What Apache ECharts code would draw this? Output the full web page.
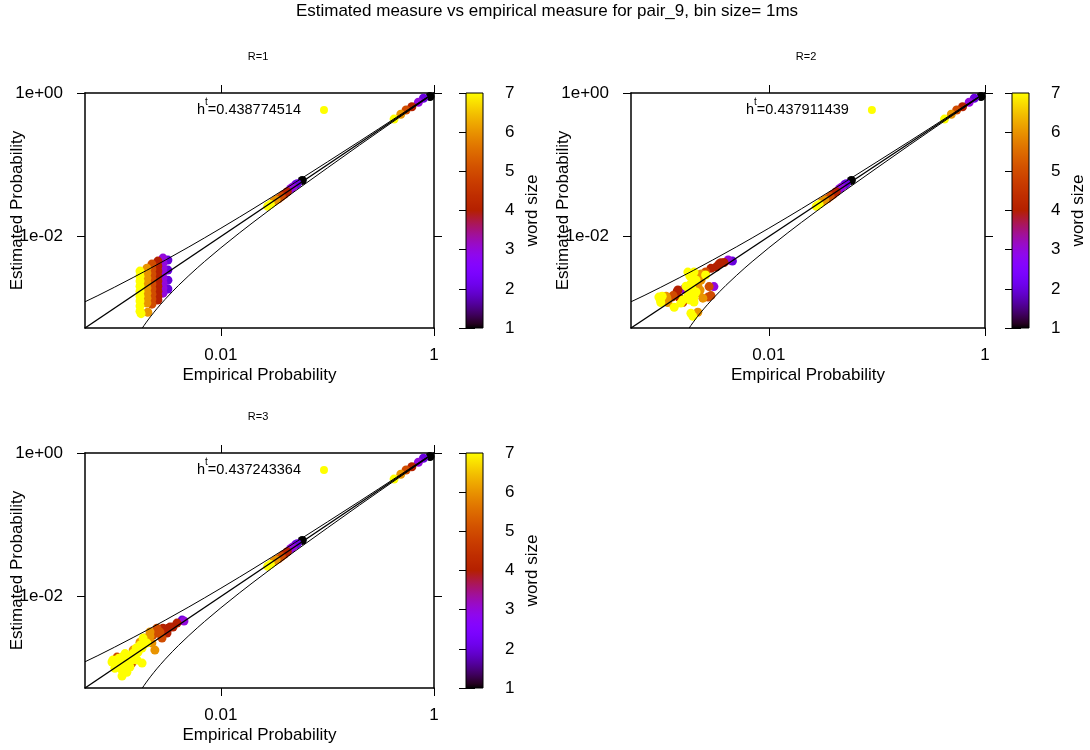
<!DOCTYPE html>
<html><head><meta charset="utf-8">
<script src="https://cdn.jsdelivr.net/npm/echarts@6/dist/echarts.min.js"></script>
<style>html,body{margin:0;padding:0;background:#fff}#c{width:1090px;height:750px}</style>
</head><body><div id="c"></div>
<script>
// ---------------- data ----------------
const titleText = 'Estimated measure vs empirical measure for pair_9, bin size= 1ms';
const panelTitles = ['R=1', 'R=2', 'R=3'];
const keyValues = ['0.438774514', '0.437911439', '0.437243364'];
const axisMin = 5.3e-4;
const axisMax = 1;
const xTickValues = [0.01, 1];
const yTickValues = [0.01, 1];
const colorbarTicks = [1, 2, 3, 4, 5, 6, 7];
const xAxisName = 'Empirical Probability';
const yAxisName = 'Estimated Probability';
const cbName = 'word size';

// reference lines: [empirical, estimated]
const diagonal = [[5.3e-4, 5.3e-4], [1, 1]];
const upperCurve = [[5.3e-4,1.23e-3],[7e-4,1.5e-3],[1e-3,1.96e-3],[1.5e-3,2.68e-3],[2e-3,3.36e-3],[3e-3,4.67e-3],[5e-3,7.15e-3],[7e-3,9.54e-3],[0.01,0.01304],[0.015,0.01872],[0.02,0.0243],[0.03,0.03527],[0.05,0.0568],[0.1,0.1096],[0.2,0.2122],[0.3,0.3139],[0.5,0.5152],[0.8,0.8122],[1,1]];
const lowerCurve = [[1.83e-3,5.3e-4],[1.85e-3,5.42e-4],[1.9e-3,5.75e-4],[2e-3,6.4e-4],[2.1e-3,7.07e-4],[2.2e-3,7.74e-4],[2.35e-3,8.76e-4],[2.5e-3,9.8e-4],[2.7e-3,1.12e-3],[3e-3,1.335e-3],[3.5e-3,1.70e-3],[4e-3,2.08e-3],[5e-3,2.85e-3],[6e-3,3.65e-3],[7e-3,4.46e-3],[0.01,6.96e-3],[0.015,0.01128],[0.02,0.0157],[0.03,0.02473],[0.05,0.0432],[0.1,0.0904],[0.2,0.1878],[0.3,0.286],[0.5,0.4848],[0.8,0.7878],[1,1]];

// points: [empirical probability, estimated probability, word size]
const topChain = [[0.918,0.894,1],[0.796,0.844,2],[0.714,0.742,3],[0.620,0.644,4],[0.547,0.579,5],[0.488,0.505,6],[0.422,0.433,7]];
const midCluster = [[0.0580,0.0605,1],[0.0500,0.0525,2],[0.0520,0.0545,2],[0.0450,0.0462,3],[0.0470,0.0485,3],[0.0392,0.0385,4],[0.0420,0.0420,4],[0.0350,0.0337,5],[0.0370,0.0360,5],[0.0312,0.0305,6],[0.0330,0.0322,6],[0.0275,0.0263,7],[0.0292,0.0280,7]];
const lowR1 = [
 [3.18e-3,4.69e-3,2],[3.18e-3,3.40e-3,2],[3.18e-3,2.46e-3,2],[3.18e-3,1.85e-3,2],
 [2.86e-3,5.0e-3,3],[2.86e-3,4.26e-3,3],[2.86e-3,3.62e-3,3],[2.86e-3,3.09e-3,3],[2.86e-3,2.63e-3,3],[2.86e-3,2.24e-3,3],[2.86e-3,1.91e-3,3],[2.86e-3,1.62e-3,3],
 [2.56e-3,4.54e-3,4],[2.56e-3,3.87e-3,4],[2.56e-3,3.29e-3,4],[2.56e-3,2.80e-3,4],[2.56e-3,2.39e-3,4],[2.56e-3,2.03e-3,4],[2.56e-3,1.73e-3,4],[2.56e-3,1.47e-3,4],[2.56e-3,1.30e-3,4],
 [2.25e-3,4.12e-3,5],[2.25e-3,3.51e-3,5],[2.25e-3,2.99e-3,5],[2.25e-3,2.55e-3,5],[2.25e-3,2.17e-3,5],[2.25e-3,1.85e-3,5],[2.25e-3,1.57e-3,5],[2.25e-3,1.34e-3,5],[2.25e-3,1.14e-3,5],
 [2.02e-3,3.62e-3,6],[2.02e-3,3.09e-3,6],[2.02e-3,2.63e-3,6],[2.02e-3,2.24e-3,6],[2.02e-3,1.91e-3,6],[2.02e-3,1.62e-3,6],[2.02e-3,1.38e-3,6],[2.02e-3,1.18e-3,6],[2.06e-3,8.8e-4,6],
 [1.74e-3,3.29e-3,7],[1.74e-3,2.80e-3,7],[1.74e-3,2.39e-3,7],[1.74e-3,2.03e-3,7],[1.74e-3,1.73e-3,7],[1.74e-3,1.47e-3,7],[1.74e-3,1.26e-3,7],[1.74e-3,1.07e-3,7],[1.74e-3,9.1e-4,7],[1.78e-3,8.4e-4,7]
];
const lowR2 = [
 [4.6e-3,4.54e-3,2],
 [4.2e-3,4.7e-3,3],[3.1e-3,2.0e-3,3],[1.64e-3,1.85e-3,3],
 [3.6e-3,4.3e-3,4],[3.25e-3,3.74e-3,4],[2.91e-3,3.6e-3,4],[1.44e-3,1.8e-3,4],[1.47e-3,1.43e-3,4],[3.45e-3,4.12e-3,4],[3.85e-3,4.33e-3,4],[1.41e-3,1.68e-3,4],
 [2.6e-3,3.2e-3,5],[2.8e-3,2.0e-3,5],[2.91e-3,1.5e-3,5],[2.74e-3,1.43e-3,5],[1.3e-3,1.5e-3,5],[1.6e-3,1.2e-3,5],[1.27e-3,1.43e-3,5],
 [2.25e-3,2.9e-3,6],[2.2e-3,2.1e-3,6],[2.25e-3,1.65e-3,6],[2.45e-3,1.38e-3,6],[1.12e-3,1.47e-3,6],[1.16e-3,1.2e-3,6],[2.2e-3,8.8e-4,6],[2.36e-3,2.47e-3,6],[2.31e-3,1.79e-3,6],[2.36e-3,3.0e-3,6],[1.14e-3,1.38e-3,6],
 [1.98e-3,2.65e-3,7],[1.9e-3,2.2e-3,7],[1.82e-3,1.8e-3,7],[1.98e-3,1.6e-3,7],[2.03e-3,1.43e-3,7],[2.6e-3,2.9e-3,7],[9.6e-4,1.43e-3,7],[1.0e-3,1.2e-3,7],[1.33e-3,1.03e-3,7],[1.53e-3,1.18e-3,7],[1.6e-3,1.3e-3,7],[1.9e-3,8.5e-4,7],[1.98e-3,7.7e-4,7],
 [1.78e-3,3.19e-3,7],[1.86e-3,2.80e-3,7],[2.03e-3,3.19e-3,7],[2.12e-3,2.47e-3,7],[1.71e-3,2.03e-3,7],[1.94e-3,1.91e-3,7],[1.78e-3,1.47e-3,7],[2.12e-3,1.68e-3,7],[1.86e-3,1.30e-3,7],[2.03e-3,1.22e-3,7],[1.03e-3,1.47e-3,7],[9.9e-4,1.3e-3,7]
];
const lowR3 = [
 [4.32e-3,4.69e-3,2],
 [4.5e-3,4.55e-3,3],
 [3.87e-3,4.26e-3,4],[3.55e-3,3.75e-3,4],[3.2e-3,3.62e-3,4],[2.86e-3,3.62e-3,4],[3.12e-3,3.09e-3,4],[3.33e-3,3.74e-3,4],
 [2.51e-3,3.62e-3,5],[2.56e-3,3.09e-3,5],[2.3e-3,2.9e-3,5],[2.8e-3,2.63e-3,5],[1.06e-3,1.43e-3,5],[1.46e-3,1.18e-3,5],[2.68e-3,3.19e-3,5],
 [2.16e-3,3.2e-3,6],[1.94e-3,2.63e-3,6],[2.25e-3,2.24e-3,6],[2.4e-3,1.79e-3,6],[1.5e-3,1.79e-3,6],[2.16e-3,2.80e-3,6],[1.74e-3,2.31e-3,6],
 [1.86e-3,2.63e-3,7],[2.02e-3,2.24e-3,7],[1.82e-3,1.91e-3,7],[1.67e-3,1.68e-3,7],[1.56e-3,1.43e-3,7],[1.26e-3,1.6e-3,7],[1.18e-3,1.43e-3,7],[9.7e-4,1.30e-3,7],[9.5e-4,1.22e-3,7],[1.13e-3,1.10e-3,7],[1.18e-3,9.4e-4,7],[1.31e-3,8.8e-4,7],[1.82e-3,1.18e-3,7],[1.46e-3,1.30e-3,7],[1.4e-3,1.04e-3,7],[1.18e-3,7.8e-4,7],
 [1.04e-3,1.22e-3,7],[1.10e-3,1.38e-3,7],[1.23e-3,1.22e-3,7],[1.34e-3,1.47e-3,7],[1.50e-3,1.62e-3,7],[1.60e-3,1.91e-3,7],[1.74e-3,2.10e-3,7],[1.90e-3,2.31e-3,7],[1.34e-3,1.07e-3,7],[1.23e-3,1.0e-3,7],[1.63e-3,1.30e-3,7],[1.01e-3,1.0e-3,7]
];
const lowClusters = [lowR1, lowR2, lowR3];

// ---------------- style / layout ----------------
const FONT = "'Liberation Sans', Arial, Helvetica, sans-serif";
const layout = [
  {grid:[85,93,349,235], cb:[466,93,17,235], title:[258,57], key:[197,97]},
  {grid:[631,93,354,235], cb:[1012,93,17,235], title:[806,57], key:[746,97]},
  {grid:[85,453,349,235], cb:[466,453,17,235], title:[258,417], key:[197,457]}
];
function pal(t){
  const r = Math.round(255*Math.sqrt(t));
  const g = Math.round(255*t*t*t);
  const b = Math.round(255*Math.max(0, Math.min(1, Math.sin(2*Math.PI*t))));
  return 'rgb(' + r + ',' + g + ',' + b + ')';
}
const NS = 48, palColors = [], gradStops = [];
for (let i = 0; i <= NS; i++) { palColors.push(pal(i/NS)); gradStops.push({offset: i/NS, color: pal(i/NS)}); }

const fmtX = v => String(Number(Number(v).toPrecision(6)));
const fmtY = v => { const e = Math.round(Math.log10(v)); return '1e' + (e < 0 ? '-' : '+') + String(Math.abs(e)).padStart(2, '0'); };
const txt = (size) => ({fontSize: size, color: '#000', fontFamily: FONT});

function logAxis(gi, pos, showLab, isX){
  const ticks = isX ? xTickValues : yTickValues;
  return {
    type: 'log', logBase: 10, gridIndex: gi, position: pos, min: axisMin, max: axisMax,
    name: showLab ? (isX ? xAxisName : yAxisName) : '',
    nameLocation: 'middle', nameGap: isX ? 39 : 59, nameRotate: isX ? 0 : 90, nameMoveOverlap: false,
    nameTextStyle: txt(17),
    axisLine: {show: true, onZero: false, lineStyle: {color: '#000', width: 1.5}},
    axisTick: {show: true, inside: false, length: 8, customValues: ticks, lineStyle: {color: '#000', width: 1}},
    axisLabel: Object.assign({show: showLab, customValues: ticks, margin: isX ? 19 : 22, formatter: isX ? fmtX : fmtY}, txt(17)),
    splitLine: {show: false}, minorTick: {show: false}, minorSplitLine: {show: false}
  };
}
function cbAxis(gi, pos, showLab){
  return {
    type: 'value', gridIndex: gi, position: pos,
    min: colorbarTicks[0], max: colorbarTicks[colorbarTicks.length-1], interval: 1,
    name: showLab ? cbName : '', nameLocation: 'middle', nameGap: 41, nameRotate: 90, nameMoveOverlap: false,
    nameTextStyle: txt(17),
    axisLine: {show: false},
    axisTick: {show: true, inside: false, length: showLab ? 9 : 7, lineStyle: {color: '#000', width: 1}},
    axisLabel: Object.assign({show: showLab, margin: 22}, txt(17)),
    splitLine: {show: false}
  };
}

const grids = [], xAxes = [], yAxes = [], series = [], legends = [], scatterIdx = [];
const graphics = [{type: 'text', x: 547, y: 11, style: {text: titleText, fontSize: 17, fontFamily: FONT, fill: '#000', align: 'center', verticalAlign: 'middle'}}];

layout.forEach((L, p) => {
  const gi = grids.length;
  grids.push({left: L.grid[0], top: L.grid[1], width: L.grid[2], height: L.grid[3], containLabel: false, outerBoundsMode: 'none'});
  grids.push({left: L.cb[0], top: L.cb[1], width: L.cb[2], height: L.cb[3], containLabel: false, outerBoundsMode: 'none'});
  const xb = xAxes.length;
  xAxes.push(logAxis(gi, 'bottom', true, true));
  xAxes.push(logAxis(gi, 'top', false, true));
  xAxes.push({type: 'value', gridIndex: gi+1, min: 0, max: 1, show: false});
  const yl = yAxes.length;
  yAxes.push(logAxis(gi, 'left', true, false));
  yAxes.push(logAxis(gi, 'right', false, false));
  yAxes.push(cbAxis(gi+1, 'right', true));
  yAxes.push(cbAxis(gi+1, 'left', false));

  const name = '=' + keyValues[p];
  scatterIdx.push(series.length);
  series.push({
    type: 'scatter', name: name, xAxisIndex: xb, yAxisIndex: yl,
    data: lowClusters[p].concat(midCluster, topChain),
    symbol: 'circle', symbolSize: 9, z: 2, silent: true, animation: false,
    itemStyle: {opacity: 1}
  });
  [diagonal, upperCurve, lowerCurve].forEach((d, k) => {
    series.push({
      type: 'line', xAxisIndex: xb, yAxisIndex: yl, data: d, symbol: 'none', showSymbol: false,
      smooth: false, silent: true, animation: false, z: 3,
      lineStyle: {color: '#000', width: k === 0 ? 1.4 : 1}
    });
  });
  series.push({
    type: 'custom', xAxisIndex: xb + 2, yAxisIndex: yl + 2, silent: true, animation: false, z: 1,
    data: [[0, colorbarTicks[0]]],
    renderItem: (params, api) => {
      const a = api.coord([0, colorbarTicks[colorbarTicks.length-1]]);
      const b = api.coord([1, colorbarTicks[0]]);
      return {type: 'rect', shape: {x: a[0], y: a[1], width: b[0]-a[0], height: b[1]-a[1]},
        style: {fill: new echarts.graphic.LinearGradient(0, 1, 0, 0, gradStops), stroke: '#000', lineWidth: 1}};
    }
  });
  legends.push({
    left: L.key[0], top: L.key[1], orient: 'horizontal', align: 'right', padding: 0,
    itemWidth: 36, itemHeight: 8, itemGap: 0, selectedMode: false, icon: 'circle',
    itemStyle: {color: '#ffff00'},
    data: [{name: name, icon: 'circle', itemStyle: {color: '#ffff00'}}],
    formatter: n => '{h|h}{t|t}{v|' + n + '}',
    textStyle: {color: '#000', fontFamily: FONT, fontSize: 14.5,
      rich: {h: {fontSize: 14.5, lineHeight: 26, fontFamily: FONT, color: '#000'},
             t: {fontSize: 10, lineHeight: 10, verticalAlign: 'top', fontFamily: FONT, color: '#000'},
             v: {fontSize: 14.5, lineHeight: 26, fontFamily: FONT, color: '#000'}}}
  });
  graphics.push({type: 'text', x: L.title[0], y: L.title[1], style: {text: panelTitles[p], fontSize: 11, fontFamily: FONT, fill: '#000', align: 'center', verticalAlign: 'middle'}});
});

const chart = echarts.init(document.getElementById('c'), null, {renderer: 'canvas'});
chart.setOption({
  backgroundColor: '#fff',
  animation: false,
  grid: grids, xAxis: xAxes, yAxis: yAxes, series: series, legend: legends,
  graphic: graphics,
  visualMap: {type: 'continuous', show: false, min: colorbarTicks[0], max: colorbarTicks[colorbarTicks.length-1],
    dimension: 2, seriesIndex: scatterIdx, inRange: {color: palColors}}
});
</script></body></html>
